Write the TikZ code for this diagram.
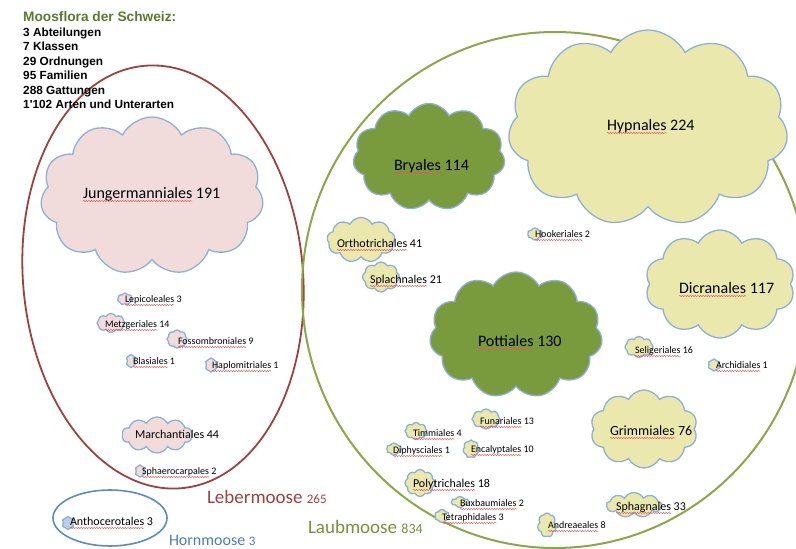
\documentclass[tikz,border=0pt]{standalone}
\usepackage{fontspec}
\setmainfont{Carlito}
\newfontfamily\arialf{Liberation Sans}
\usetikzlibrary{shapes.symbols,shapes.geometric,decorations.pathmorphing}
\definecolor{pinkfill}{HTML}{F2DCDB}
\definecolor{yelfill}{HTML}{EBE8AE}
\definecolor{grnfill}{HTML}{7A9A3E}
\definecolor{cloudline}{HTML}{8EB0D6}
\definecolor{leberred}{HTML}{A0403C}
\definecolor{laubgreen}{HTML}{8AA847}
\definecolor{laubtext}{HTML}{76923C}
\definecolor{hornblue}{HTML}{5B8CC8}
\definecolor{horntext}{HTML}{4A7EBB}
\definecolor{titlegreen}{HTML}{5A7A2C}
\definecolor{spellred}{HTML}{E35A5A}
% name with spell-check underline, followed by its number
\newcommand{\olabel}[6]{%
  \node[#1, wav] (#2) at (#3,#4) {#5};
  \node[#1, anchor=base west] (#2n) at (#2.base east) {\ #6};
}
\begin{document}
\begin{tikzpicture}[x=1pt,y=-1pt,
  cl/.style={cloud, cloud puffs=10, cloud puff arc=125, cloud ignores aspect,
    draw=cloudline, line width=1.3pt, inner sep=0pt, outer sep=0pt},
  pinkc/.style={cl, fill=pinkfill},
  yelc/.style={cl, fill=yelfill},
  grnc/.style={cl, fill=grnfill},
  cs/.style 2 args={minimum width=#1pt, minimum height=#2pt},
  lbl/.style={anchor=base west, inner sep=0pt, outer sep=0pt, text=black},
  big/.style={lbl, font=\fontsize{16}{19}\selectfont},
  grim/.style={lbl, font=\fontsize{14}{17}\selectfont},
  med/.style={lbl, font=\fontsize{12}{14}\selectfont},
  sml/.style={lbl, font=\fontsize{10}{12}\selectfont},
  spell/.style={draw=spellred, line width=0.5pt, decorate,
    decoration={snake, segment length=2.6pt, amplitude=0.6pt}},
  wav/.style={append after command={
    ([yshift=-3pt]\tikzlastnode.base west) edge[spell] ([yshift=-3pt]\tikzlastnode.base east)}},
  grp/.style={ellipse, inner sep=0pt, outer sep=0pt},
  ttl/.style={anchor=base west, inner sep=0pt, font=\arialf\bfseries\fontsize{11.8}{14}\selectfont}
]
\useasboundingbox (0,0) rectangle (796,549);
\clip (0,0) rectangle (796,549);

% group ellipses
\node[grp, draw=leberred, line width=1.8pt, minimum width=280pt, minimum height=424pt, rotate=5] (leber) at (163,277) {};
\node[grp, draw=laubgreen, line width=2pt, minimum width=506pt, minimum height=516pt] (laub) at (555,290) {};
\node[grp, draw=hornblue, line width=1.6pt, minimum width=114pt, minimum height=56pt] (horn) at (110,518) {};

% title
\node[ttl, text=titlegreen, font=\arialf\bfseries\fontsize{13.7}{16}\selectfont] (t0) at (23,21) {Moosflora der Schweiz:};
\node[ttl] (t1) at (23,36) {3 Abteilungen};
\node[ttl] (t2) at (23,50.5) {7 Klassen};
\node[ttl] (t3) at (23,65) {29 Ordnungen};
\node[ttl] (t4) at (23,79.5) {95 Familien};
\node[ttl] (t5) at (23,94) {288 Gattungen};
\node[ttl] (t6) at (23,108.5) {1'102 Arten und Unterarten};

% Lebermoose clouds
\node[pinkc, cloud puffs=11, cs={223}{158}] (cjung) at (152,196) {};
\node[pinkc, cloud puffs=7, cs={15}{12}] (clepi) at (125,299) {};
\node[pinkc, cloud puffs=8, cs={28}{19}] (cmetz) at (111,323) {};
\node[pinkc, cloud puffs=8, cs={20}{18}] (cfoss) at (177,339) {};
\node[pinkc, cloud puffs=6, cs={10}{13}] (cblas) at (131,361) {};
\node[pinkc, cloud puffs=6, cs={12}{14}] (chapl) at (211,365) {};
\node[pinkc, cloud puffs=10, cs={70}{36}] (cmarch) at (157,435) {};
\node[pinkc, cloud puffs=6, cs={10}{12}] (csphae) at (140,471) {};
\node[pinkc, cloud puffs=6, cs={12}{13}, fill=cloudline!60] (canth) at (68,523) {};

% Laubmoose clouds
\node[yelc, cloud puffs=11, cs={280}{196}] (chyp) at (648,128) {};
\node[grnc, cloud puffs=11, cs={152}{107}] (cbry) at (429,157) {};
\node[yelc, cloud puffs=9, cs={68}{45}] (corth) at (361,240) {};
\node[yelc, cloud puffs=8, cs={37}{30}] (cspla) at (381,277) {};
\node[yelc, cloud puffs=6, cs={15}{12}] (chook) at (535,234) {};
\node[yelc, cloud puffs=10, cs={150}{108}] (cdicr) at (720,284) {};
\node[grnc, cloud puffs=11, cs={173}{126}] (cpott) at (516,335) {};
\node[yelc, cloud puffs=8, cs={28}{21}] (cseli) at (639,347) {};
\node[yelc, cloud puffs=6, cs={12}{12}] (carch) at (714,365) {};
\node[yelc, cloud puffs=10, cs={107}{78}] (cgrim) at (644,429) {};
\node[yelc, cloud puffs=8, cs={28}{20}] (cfuna) at (486,419) {};
\node[yelc, cloud puffs=8, cs={22}{17}] (ctimm) at (416,431) {};
\node[yelc, cloud puffs=6, cs={15}{12}] (cdiph) at (394,449) {};
\node[yelc, cloud puffs=7, cs={16}{18}] (cenca) at (471,449) {};
\node[yelc, cloud puffs=8, cs={30}{27}] (cpoly) at (420,483) {};
\node[yelc, cloud puffs=6, cs={17}{11}] (cbuxb) at (460,502) {};
\node[yelc, cloud puffs=6, cs={15}{13}] (ctetr) at (442,516) {};
\node[yelc, cloud puffs=7, cs={19}{24}] (candr) at (547,525) {};
\node[yelc, cloud puffs=9, cs={55}{25}] (csphag) at (634,505) {};

% labels Lebermoose
\olabel{big}{ljung}{83}{198}{Jungermanniales}{191}
\olabel{sml}{llepi}{125}{302}{Lepicoleales}{3}
\olabel{sml}{lmetz}{105}{327}{Metzgeriales}{14}
\olabel{sml}{lfoss}{178}{344}{Fossombroniales}{9}
\olabel{sml}{lblas}{133}{364}{Blasiales}{1}
\olabel{sml}{lhapl}{212}{368}{Haplomitriales}{1}
\node[med] (lmarch) at (135,438) {Marchantiales 44};
\olabel{sml}{lsphae}{142}{474}{Sphaerocarpales}{2}
\olabel{med}{lanth}{70}{525}{Anthocerotales}{3}

% labels Laubmoose
\olabel{big}{lhyp}{607}{130}{Hypnales}{224}
\olabel{big}{lbry}{394}{170}{Bryales}{114}
\olabel{med}{lorth}{337}{247}{Orthotrichales}{41}
\olabel{med}{lspla}{370}{283}{Splachnales}{21}
\olabel{sml}{lhook}{535}{237}{Hookeriales}{2}
\olabel{big}{ldicr}{679}{293}{Dicranales}{117}
\olabel{big}{lpott}{478}{346}{Pottiales}{130}
\olabel{sml}{lseli}{635}{353}{Seligeriales}{16}
\olabel{sml}{larch}{716}{368}{Archidiales}{1}
\olabel{grim}{lgrim}{610}{435}{Grimmiales}{76}
\olabel{sml}{lfuna}{480}{424}{Funariales}{13}
\olabel{sml}{ltimm}{413}{436}{Timmiales}{4}
\olabel{sml}{ldiph}{393}{453}{Diphysciales}{1}
\olabel{sml}{lenca}{471}{452}{Encalyptales}{10}
\olabel{med}{lpoly}{413}{487}{Polytrichales}{18}
\olabel{sml}{lbuxb}{460}{506}{Buxbaumiales}{2}
\olabel{sml}{ltetr}{442}{520}{Tetraphidales}{3}
\olabel{sml}{landr}{548}{528}{Andreaeales}{8}
\olabel{med}{lsphag}{616}{510}{Sphagnales}{33}

% group labels
\node[lbl, text=leberred] (nleber) at (207,503) {\fontsize{19}{22}\selectfont Lebermoose \fontsize{13}{15}\selectfont 265};
\node[lbl, text=laubtext] (nlaub) at (308,533) {\fontsize{19}{22}\selectfont Laubmoose \fontsize{14}{16}\selectfont 834};
\node[lbl, text=horntext] (nhorn) at (169,545) {\fontsize{16}{19}\selectfont Hornmoose \fontsize{13}{15}\selectfont 3};
\end{tikzpicture}
\end{document}
